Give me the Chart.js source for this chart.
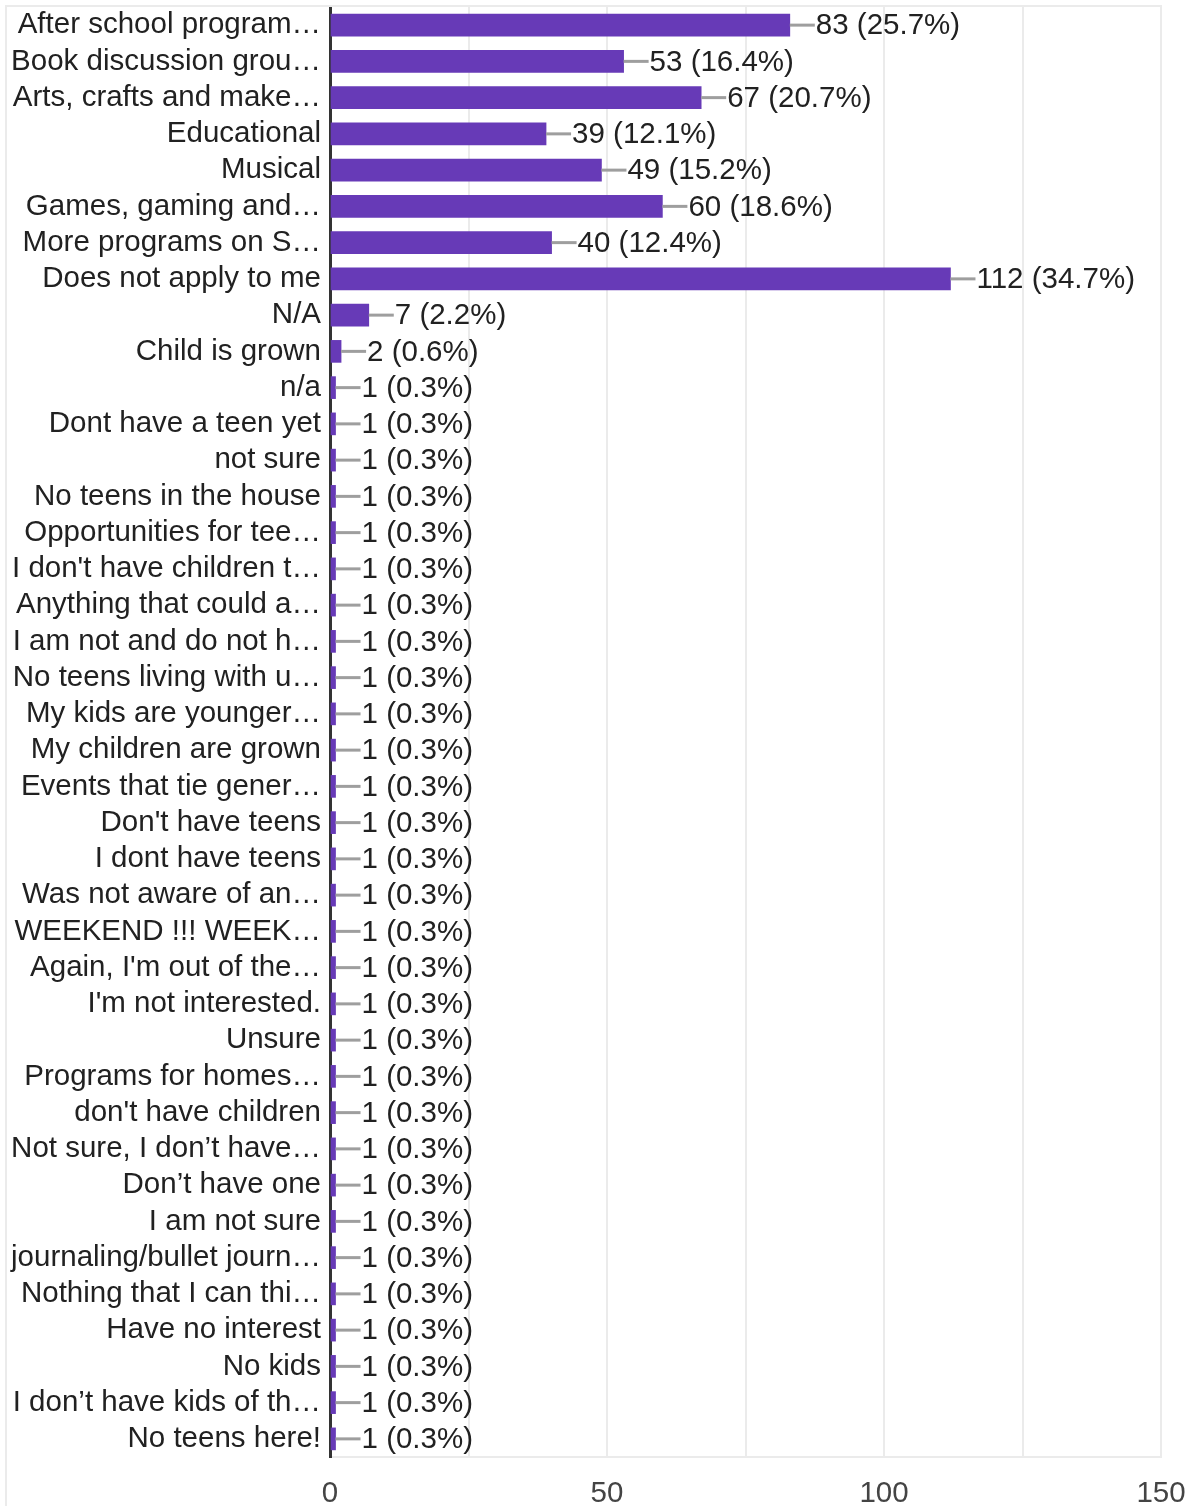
<!DOCTYPE html>
<html>
<head>
<meta charset="utf-8">
<script src="https://cdn.jsdelivr.net/npm/chart.js@4"></script>
<style>
  body { margin: 0; background: #fff; }
  #wrap { width: 1190px; height: 1506px; }
</style>
</head>
<body>
<div id="wrap"><canvas id="chart" width="1190" height="1506"></canvas></div>
<script>
// Antworten (Beschriftungen wie im Bild gekürzt)
const answers = [
    'After school program…', 'Book discussion grou…', 'Arts, crafts and make…', 'Educational',
    'Musical', 'Games, gaming and…', 'More programs on S…', 'Does not apply to me',
    'N/A', 'Child is grown', 'n/a', 'Dont have a teen yet',
    'not sure', 'No teens in the house', 'Opportunities for tee…', 'I don\'t have children t…',
    'Anything that could a…', 'I am not and do not h…', 'No teens living with u…', 'My kids are younger…',
    'My children are grown', 'Events that tie gener…', 'Don\'t have teens', 'I dont have teens',
    'Was not aware of an…', 'WEEKEND !!! WEEK…', 'Again, I\'m out of the…', 'I\'m not interested.',
    'Unsure', 'Programs for homes…', 'don\'t have children', 'Not sure, I don’t have…',
    'Don’t have one', 'I am not sure', 'journaling/bullet journ…', 'Nothing that I can thi…',
    'Have no interest', 'No kids', 'I don’t have kids of th…', 'No teens here!'
];

const counts = [
    83, 53, 67, 39,
    49, 60, 40, 112,
    7, 2, 1, 1,
    1, 1, 1, 1,
    1, 1, 1, 1,
    1, 1, 1, 1,
    1, 1, 1, 1,
    1, 1, 1, 1,
    1, 1, 1, 1,
    1, 1, 1, 1
];

const respondents = 323;
const xTicks = [0, 50, 100, 150];
const xGrid = [0, 25, 50, 75, 100, 125, 150];

const FONT = '"Liberation Sans", Arial, sans-serif';
const FONT_SIZE = 29.5;

// Wert-Beschriftung mit kurzer Linie hinter jedem Balken
const valueLabels = {
    id: 'valueLabels',
    afterDatasetsDraw(chart) {
        const ctx = chart.ctx;
        const meta = chart.getDatasetMeta(0);
        ctx.save();
        ctx.font = FONT_SIZE + 'px ' + FONT;
        ctx.textBaseline = 'middle';
        ctx.textAlign = 'left';
        meta.data.forEach((bar, i) => {
            const x = bar.x;
            const y = bar.y;
            ctx.strokeStyle = '#9e9e9e';
            ctx.lineWidth = 3;
            ctx.beginPath();
            ctx.moveTo(x, y);
            ctx.lineTo(x + 25, y);
            ctx.stroke();
            const pct = (counts[i] / respondents * 100).toFixed(1);
            ctx.fillStyle = '#212121';
            ctx.fillText(`${counts[i]} (${pct}%)`, x + 26, y + 1);
        });
        ctx.restore();
    }
};

// Rahmen oben und links
const frame = {
    id: 'frame',
    beforeDatasetsDraw(chart) {
        const ctx = chart.ctx;
        const a = chart.chartArea;
        ctx.save();
        ctx.strokeStyle = '#ebebeb';
        ctx.lineWidth = 2;
        ctx.beginPath();
        ctx.moveTo(5, 6);
        ctx.lineTo(a.right + 1, 6);
        ctx.moveTo(6, 5);
        ctx.lineTo(6, 1506);
        ctx.stroke();
        ctx.restore();
    }
};

// keine automatische Randabstände der Achsen
function noPadding(s) {
    s.paddingTop = 0;
    s.paddingBottom = 0;
    s.paddingLeft = 0;
    s.paddingRight = 0;
}

new Chart(document.getElementById('chart'), {
    type: 'bar',
    data: {
        labels: answers,
        datasets: [{
            data: counts,
            backgroundColor: '#673ab7',
            barThickness: 22
        }]
    },
    options: {
        indexAxis: 'y',
        responsive: false,
        animation: false,
        layout: { padding: { top: 7, right: 29, left: 0, bottom: 0 } },
        plugins: {
            legend: { display: false },
            tooltip: { enabled: false }
        },
        scales: {
            x: {
                min: 0,
                max: 150,
                afterFit: s => { s.height = 49; noPadding(s); },
                afterBuildTicks: s => {
                    s.ticks = xGrid.map(v => ({ value: v }));
                },
                grid: { color: '#ebebeb', lineWidth: 2, drawTicks: false },
                border: { color: '#ebebeb', width: 2 },
                ticks: {
                    padding: 19,
                    color: '#444',
                    font: { family: FONT, size: FONT_SIZE },
                    maxRotation: 0,
                    autoSkip: false,
                    callback: v => xTicks.includes(v) ? String(v) : ''
                }
            },
            y: {
                afterFit: s => { s.width = 330; noPadding(s); },
                grid: { display: false, drawTicks: false },
                border: { display: true, color: '#333', width: 3 },
                ticks: {
                    padding: 9,
                    color: '#212121',
                    autoSkip: false,
                    font: { family: FONT, size: FONT_SIZE }
                }
            }
        }
    },
    plugins: [frame, valueLabels]
});
</script>
</body>
</html>
